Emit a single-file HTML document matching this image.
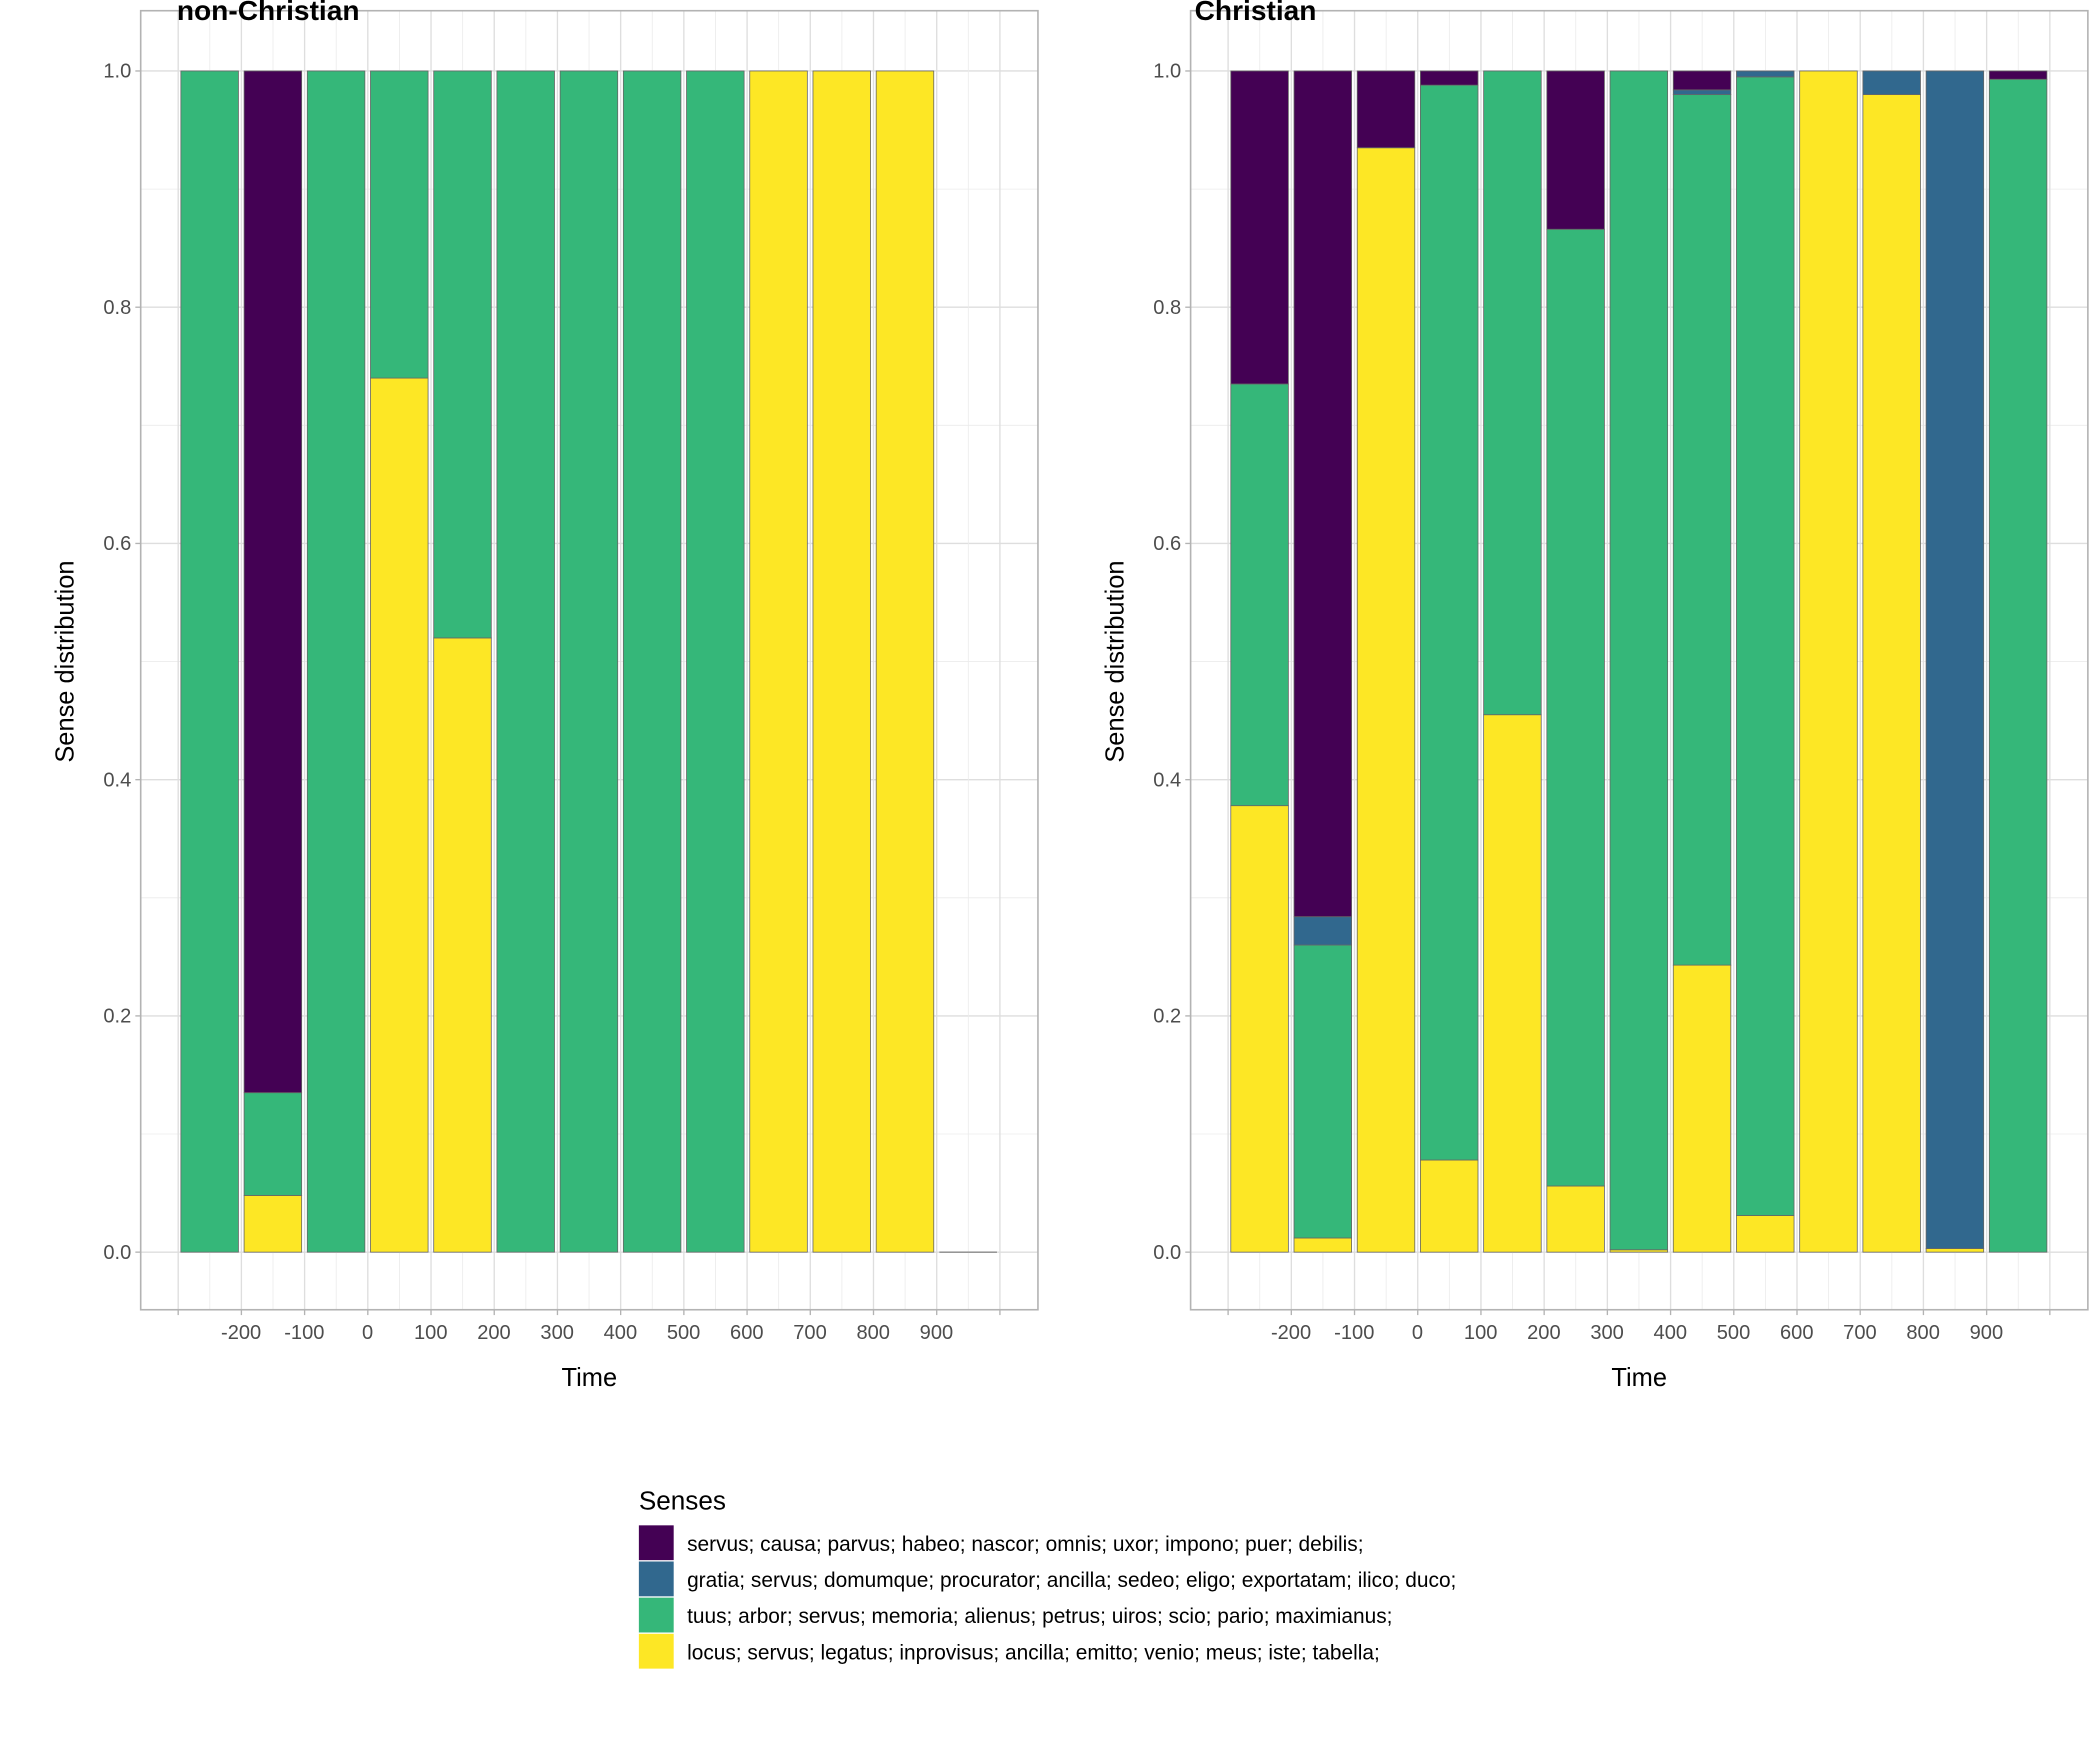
<!DOCTYPE html>
<html><head><meta charset="utf-8"><style>
html,body{margin:0;padding:0;background:#fff}
svg{display:block}
text{font-family:"Liberation Sans",Arial,sans-serif}
</style></head><body>
<svg id="chart" width="2100" height="1753" viewBox="0 0 1568 1309" xmlns="http://www.w3.org/2000/svg"></svg>
<script>
const timeTicks = ["-200","-100","0","100","200","300","400","500","600","700","800","900"];
const yTicks = [0, 0.2, 0.4, 0.6, 0.8, 1.0];
const senseLabels = [
 "servus; causa; parvus; habeo; nascor; omnis; uxor; impono; puer; debilis;",
 "gratia; servus; domumque; procurator; ancilla; sedeo; eligo; exportatam; ilico; duco;",
 "tuus; arbor; servus; memoria; alienus; petrus; uiros; scio; pario; maximianus;",
 "locus; servus; legatus; inprovisus; ancilla; emitto; venio; meus; iste; tabella;"
];
const senseColors = ["#440154","#31688e","#35b779","#fde725"];
// values per bar, stacking order bottom->top: yellow, green, blue, purple
const nonChristianYellow = [0,0.048,0,0.74,0.52,0,0,0,0,1,1,1,0];
const nonChristianGreen  = [1,0.087,1,0.26,0.48,1,1,1,1,0,0,0,0];
const nonChristianBlue   = [0,0,0,0,0,0,0,0,0,0,0,0,0];
const nonChristianPurple = [0,0.865,0,0,0,0,0,0,0,0,0,0,0];
const christianYellow = [0.378,0.012,0.935,0.078,0.455,0.056,0.002,0.243,0.031,1,0.98,0.003,0];
const christianGreen  = [0.357,0.248,0,0.91,0.545,0.81,0.998,0.737,0.964,0,0,0,0.993];
const christianBlue   = [0,0.024,0,0,0,0,0,0.004,0.005,0,0.02,0.997,0];
const christianPurple = [0.265,0.716,0.065,0.012,0,0.134,0,0.016,0,0,0,0,0.007];

const NS="http://www.w3.org/2000/svg";
const svg=document.getElementById('chart');
function mk(tag,attrs,parent){const e=document.createElementNS(NS,tag);for(const k in attrs)e.setAttribute(k,attrs[k]);(parent||svg).appendChild(e);return e;}

function panel(off,title,series,nameKey,titleX){
  const g=mk('g',{});
  
  
  const L=105+off,R=775+off,T=8,B=978;
  const y=v=>935-v*882;
  const barLeft=i=>135+off+i*47.2;
  for(let v=0.1;v<1.05;v+=0.2){mk('line',{x1:L,x2:R,y1:y(v),y2:y(v),stroke:'#ebebeb','stroke-width':0.6},g);}
  yTicks.forEach(v=>mk('line',{x1:L,x2:R,y1:y(v),y2:y(v),stroke:'#dedede','stroke-width':1},g));
  for(let k=0;k<=26;k++){const x=133+off+k*23.6;mk('line',{x1:x,x2:x,y1:T,y2:B,stroke:k%2?'#ebebeb':'#dedede','stroke-width':k%2?0.6:1},g);}
  const n=series[0].length;
  for(let i=0;i<n;i++){
    let acc=0;
    const order=[[series[0],3],[series[1],2],[series[2],1],[series[3],0]];
    let any=false;
    order.forEach(([arr,ci])=>{
      const v=arr[i]; if(v<=0)return; any=true;
      const r=mk('rect',{x:barLeft(i),y:y(acc+v),width:43,height:y(acc)-y(acc+v),fill:senseColors[ci],stroke:'#666','stroke-width':0.6},g);
      
      
      acc+=v;
    });
    if(!any){mk('line',{x1:barLeft(i),x2:barLeft(i)+43,y1:y(0),y2:y(0),stroke:'#666','stroke-width':0.8},g);}
  }
  mk('rect',{x:L,y:T,width:R-L,height:B-T,fill:'none',stroke:'#b3b3b3','stroke-width':1.2},g);
  yTicks.forEach(v=>{
    mk('line',{x1:L-4,x2:L,y1:y(v),y2:y(v),stroke:'#b3b3b3'},g);
    const t=mk('text',{x:L-7,y:y(v)+5,'text-anchor':'end','font-size':15,fill:'#4d4d4d'},g);t.textContent=v.toFixed(1);
  });
  for(let k=0;k<=26;k+=2){const x=133+off+k*23.6;mk('line',{x1:x,x2:x,y1:B,y2:B+4,stroke:'#b3b3b3'},g);}
  timeTicks.forEach((lab,k)=>{
    const t=mk('text',{x:180+off+k*47.2,y:1000,'text-anchor':'middle','font-size':15,fill:'#4d4d4d'},g);t.textContent=lab;
  });
  const xt=mk('text',{x:440+off,y:1035,'text-anchor':'middle','font-size':19,fill:'#000'},g);xt.textContent='Time';
  
  
  const yt=mk('text',{x:0,y:0,'text-anchor':'middle','font-size':19,fill:'#000',transform:`translate(${55+off},494) rotate(-90)`},g);yt.textContent='Sense distribution';
  
  
  const tt=mk('text',{x:titleX,y:15,'font-size':21,'font-weight':'bold',fill:'#000'},g);tt.textContent=title;
  
  
}
panel(0,'non-Christian',[nonChristianYellow,nonChristianGreen,nonChristianBlue,nonChristianPurple],'non-christian',132);
panel(784,'Christian',[christianYellow,christianGreen,christianBlue,christianPurple],'christian',892);

const lg=mk('g',{});


const lt=mk('text',{x:477,y:1127,'font-size':19.5,fill:'#000'},lg);lt.textContent='Senses';
senseLabels.forEach((s,i)=>{
  const r=mk('rect',{x:477,y:1139+i*27,width:26,height:26,fill:senseColors[i]},lg);
  
  
  const t=mk('text',{x:513,y:1158+i*27,'font-size':15.6,fill:'#000'},lg);t.textContent=s;
  
  
});
</script>
</body></html>
